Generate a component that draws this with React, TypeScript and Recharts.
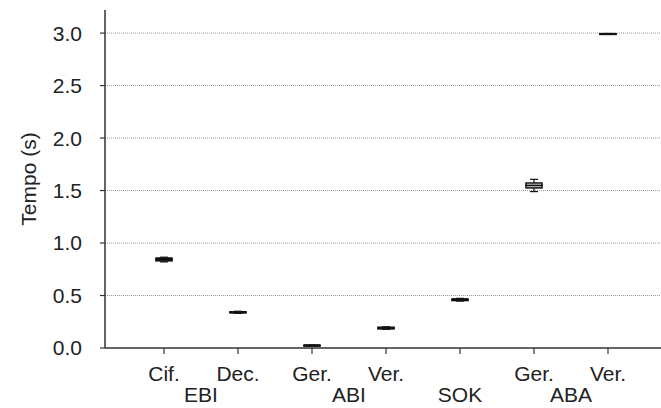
import React from 'react';
import { ComposedChart, Bar, XAxis, YAxis, CartesianGrid } from 'recharts';

// one entry per box, left to right
const categories = ['Cif.', 'Dec.', 'Ger.', 'Ver.', '', 'Ger.', 'Ver.'];
// group name under each box ('' = none) and its shift in category steps
const groupLabels = ['EBI', '', 'ABI', '', 'SOK', 'ABA', ''];
const groupShift = [0.5, 0, 0.5, 0, 0, 0.5, 0];

const mins = [0.82, 0.33, 0.024, 0.178, 0.447, 1.49, 2.988];
const q1s = [0.83, 0.336, 0.025, 0.182, 0.452, 1.525, 2.99];
const medians = [0.845, 0.34, 0.025, 0.19, 0.46, 1.55, 2.992];
const q3s = [0.857, 0.345, 0.025, 0.198, 0.468, 1.572, 2.994];
const maxs = [0.865, 0.35, 0.026, 0.202, 0.473, 1.607, 2.996];

const yTicks = [0, 0.5, 1.0, 1.5, 2.0, 2.5, 3.0];
const gridValues = [0.5, 1.0, 1.5, 2.0, 2.5, 3.0];

const STEP = 74; // px between category centres
const FONT = 'Arial, "Liberation Sans", sans-serif';
const TEXT = '#222';

const data = categories.map((name, i) => ({
  name: String(i),
  label: name,
  group: groupLabels[i],
  shift: groupShift[i],
  base: mins[i],
  lowWhisker: q1s[i] - mins[i],
  lowBox: medians[i] - q1s[i],
  highBox: q3s[i] - medians[i],
  highWhisker: maxs[i] - q3s[i],
}));

const Empty = () => <g />;

const LowWhisker = (p: any) => {
  const cx = p.x + p.width / 2;
  const bottom = p.y + p.height;
  return (
    <g>
      <line x1={cx} x2={cx} y1={p.y} y2={bottom} stroke="#111" strokeWidth={1.2} />
      <line x1={cx - 4} x2={cx + 4} y1={bottom} y2={bottom} stroke="#111" strokeWidth={1.2} />
    </g>
  );
};

const HighWhisker = (p: any) => {
  const cx = p.x + p.width / 2;
  return (
    <g>
      <line x1={cx} x2={cx} y1={p.y} y2={p.y + p.height} stroke="#111" strokeWidth={1.2} />
      <line x1={cx - 4} x2={cx + 4} y1={p.y} y2={p.y} stroke="#111" strokeWidth={1.2} />
    </g>
  );
};

const LowBox = (p: any) => (
  <g>
    <rect x={p.x} y={p.y} width={p.width} height={Math.max(p.height, 0.5)} fill="#fff" stroke="#111" strokeWidth={1.5} />
    <line x1={p.x} x2={p.x + p.width} y1={p.y} y2={p.y} stroke="#111" strokeWidth={2} />
  </g>
);

const HighBox = (p: any) => (
  <rect x={p.x} y={p.y} width={p.width} height={Math.max(p.height, 0.5)} fill="#fff" stroke="#111" strokeWidth={1.5} />
);

const XTick = (props: any) => {
  const { x, y, payload } = props;
  const d = data[payload.index];
  return (
    <g>
      <text x={x} y={y} dy={25} textAnchor="middle" fontSize={21} fontFamily={FONT} fill={TEXT}>
        {d.label}
      </text>
      {d.group && (
        <text x={x + d.shift * STEP} y={y} dy={46} textAnchor="middle" fontSize={21} fontFamily={FONT} fill={TEXT}>
          {d.group}
        </text>
      )}
    </g>
  );
};

const YLabel = (props: any) => {
  const vb = props.viewBox;
  const cx = 36;
  const cy = vb.y + vb.height / 2;
  return (
    <text x={cx} y={cy} transform={`rotate(-90, ${cx}, ${cy})`} textAnchor="middle" fontSize={21} fontFamily={FONT} fill={TEXT}>
      Tempo (s)
    </text>
  );
};

export default function App() {
  return (
    <div style={{ position: 'absolute', left: 0, top: 0, background: '#fff' }}>
      <ComposedChart width={661} height={408} data={data} margin={{ top: 10, right: 0, bottom: 0, left: 0 }}>
        <CartesianGrid horizontal vertical={false} horizontalValues={gridValues} stroke="#999" strokeDasharray="1 1" />
        <XAxis
          dataKey="name"
          height={60}
          padding={{ left: 22, right: 16 }}
          axisLine={{ stroke: '#333', strokeWidth: 1.5 }}
          tickLine={{ stroke: '#333', strokeWidth: 1.2 }}
          tickSize={6}
          tick={<XTick />}
          interval={0}
        />
        <YAxis
          type="number"
          domain={[0, 3.22]}
          ticks={yTicks}
          width={105}
          axisLine={{ stroke: '#333', strokeWidth: 1.5 }}
          tickLine={{ stroke: '#333', strokeWidth: 1.2 }}
          tickSize={5}
          tickMargin={18}
          tickFormatter={(v: number) => v.toFixed(1)}
          tick={{ fontSize: 21, fontFamily: FONT, fill: TEXT }}
          label={<YLabel />}
        />
        <Bar dataKey="base" stackId="b" barSize={16} shape={<Empty />} isAnimationActive={false} />
        <Bar dataKey="lowWhisker" stackId="b" barSize={16} shape={<LowWhisker />} isAnimationActive={false} />
        <Bar dataKey="lowBox" stackId="b" barSize={16} shape={<LowBox />} isAnimationActive={false} />
        <Bar dataKey="highBox" stackId="b" barSize={16} shape={<HighBox />} isAnimationActive={false} />
        <Bar dataKey="highWhisker" stackId="b" barSize={16} shape={<HighWhisker />} isAnimationActive={false} />
      </ComposedChart>
    </div>
  );
}
